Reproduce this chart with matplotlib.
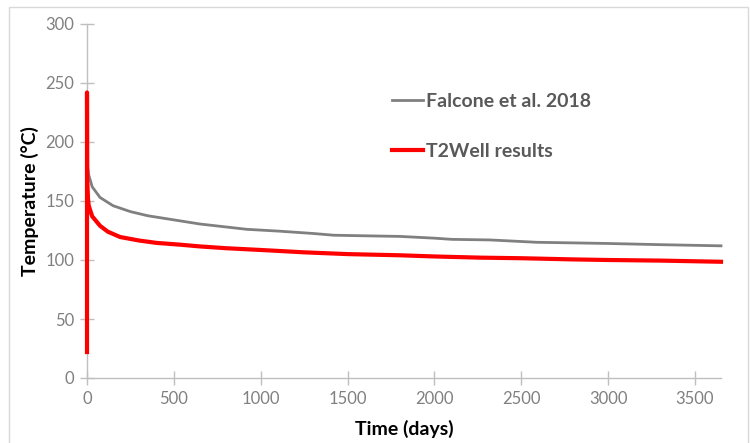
import matplotlib
matplotlib.use("Agg")
import matplotlib.pyplot as plt
from matplotlib.patches import Rectangle

# Data
falcone_t = [0, 10, 30, 75, 150, 250, 350, 500, 650, 800, 920, 1100, 1300, 1420,
             1600, 1800, 2000, 2100, 2320, 2590, 2800, 3000, 3300, 3650]
falcone_T = [183, 172, 162, 153, 146, 141, 137.5, 134, 130.5, 128, 126, 124.5, 122.5, 121,
             120.5, 120, 118.5, 117.5, 117, 115, 114.5, 114, 113, 112]

t2well_t = [0, 0, 1, 5, 10, 30, 75, 120, 190, 300, 400, 535, 650, 800, 1000, 1250,
            1500, 1800, 2000, 2263, 2500, 2800, 3000, 3300, 3650]
t2well_T = [22, 242, 168, 153, 146, 137, 129, 124, 119.5, 116.5, 114.5, 113, 111.5, 110, 108.5, 106.5,
            105, 104, 103, 102, 101.5, 100.5, 100, 99.5, 98.5]

xticks = [0, 500, 1000, 1500, 2000, 2500, 3000, 3500]
yticks = [0, 50, 100, 150, 200, 250, 300]

plt.rcParams['font.family'] = ['Lato', 'DejaVu Sans']

fig = plt.figure(figsize=(7.5, 4.43), dpi=100)
ax = fig.add_axes([87/750, 1-378/443, (721-87)/750, (378-24)/443])

# figure border
fig.patches.append(Rectangle((9/750, -0.01), (748-9)/750, 1-7/443+0.01,
                             transform=fig.transFigure, fill=False,
                             edgecolor='#D9D9D9', linewidth=1))

ax.plot(falcone_t, falcone_T, color='#808080', linewidth=2, label='Falcone et al. 2018',
        clip_on=False, zorder=3)
ax.plot(t2well_t, t2well_T, color='#FF0000', linewidth=3, label='T2Well results',
        clip_on=False, zorder=4)

ax.set_xlim(0, 3650)
ax.set_ylim(0, 300)
ax.set_xticks(xticks)
ax.set_yticks(yticks)

for s in ['top', 'right']:
    ax.spines[s].set_visible(False)
for s in ['left', 'bottom']:
    ax.spines[s].set_color('#BFBFBF')
    ax.spines[s].set_linewidth(1)

ax.tick_params(axis='both', direction='inout', length=10, width=1, color='#BFBFBF',
               labelcolor='#808080', labelsize=12)
ax.tick_params(axis='x', pad=4)
ax.tick_params(axis='y', pad=4)

ax.set_xlabel('Time (days)', fontsize=14, fontweight='bold', color='black', labelpad=10)
ax.set_ylabel('Temperature (°C)', fontsize=14, fontweight='bold', color='black', labelpad=5)

leg = ax.legend(loc='upper left', bbox_to_anchor=(374/750, 1-75/443),
                bbox_transform=fig.transFigure, frameon=False,
                handlelength=1.6, handletextpad=0.2, labelspacing=1.7,
                prop={'size': 14, 'weight': 'bold'})
for txt in leg.get_texts():
    txt.set_color('#595959')

fig.savefig('out.png', dpi=100)
